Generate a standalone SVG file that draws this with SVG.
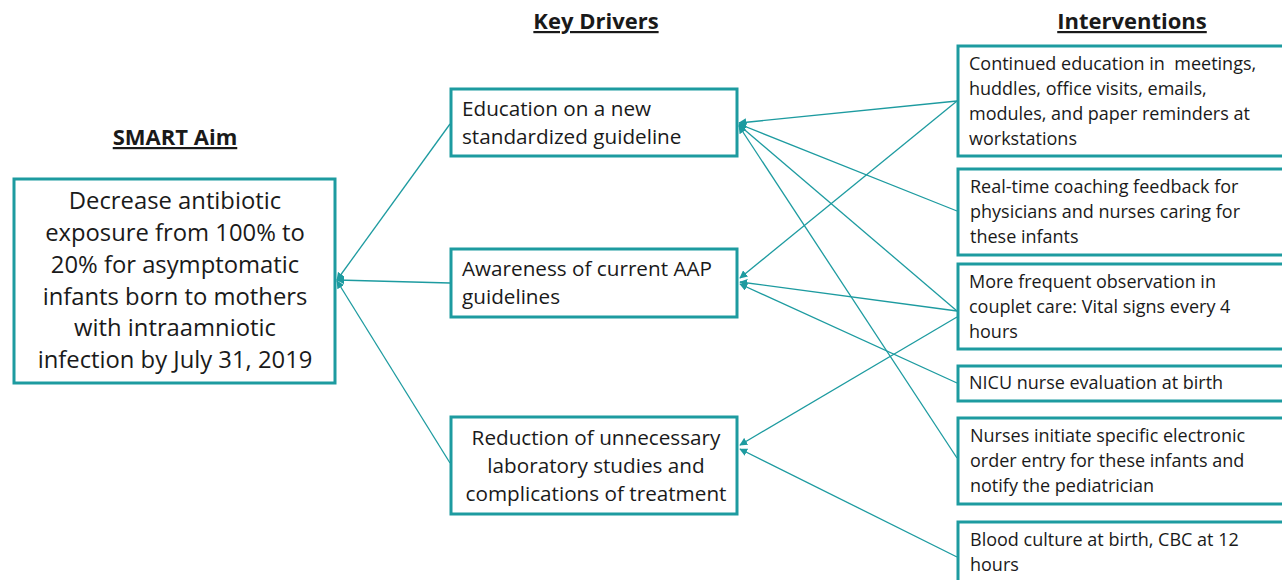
<svg xmlns="http://www.w3.org/2000/svg" width="1282" height="580" viewBox="0 0 1282 580">
<style>
.box{fill:#fff;stroke:#1D9BA0;stroke-width:3}
.t{font-family:"Open Sans","Liberation Sans",sans-serif;fill:#1a1a1a}
.aim{font-size:23.8px}
.drv{font-size:20.7px}
.int{font-size:18px}
.hd{font-family:"Open Sans","Liberation Sans",sans-serif;font-weight:bold;font-size:22px;text-decoration:underline;fill:#1a1a1a}
.c{stroke:#1D9BA0;stroke-width:1.3;fill:none;marker-end:url(#ah)}
</style>
<defs>
<marker id="ah" viewBox="0 0 10 10" refX="9" refY="5" markerWidth="8" markerHeight="8" markerUnits="userSpaceOnUse" orient="auto">
<path d="M0,0 L10,5 L0,10 z" fill="#1D9BA0"/>
</marker>
</defs>
<rect width="1282" height="580" fill="#fff"/>
<text class="hd" x="175" y="145" text-anchor="middle">SMART Aim</text>
<text class="hd" x="596" y="29" text-anchor="middle">Key Drivers</text>
<text class="hd" x="1132" y="29" text-anchor="middle">Interventions</text>
<g id="connectors">
<line class="c" x1="450" y1="124" x2="337" y2="280"/>
<line class="c" x1="450" y1="283" x2="337" y2="280"/>
<line class="c" x1="450" y1="463" x2="337" y2="281"/>
<line class="c" x1="957" y1="101" x2="739" y2="123"/>
<line class="c" x1="957" y1="211" x2="739" y2="124"/>
<line class="c" x1="957" y1="311" x2="739" y2="125"/>
<line class="c" x1="957" y1="458" x2="739" y2="126"/>
<line class="c" x1="957" y1="101" x2="740" y2="278"/>
<line class="c" x1="957" y1="311" x2="740" y2="282"/>
<line class="c" x1="957" y1="383" x2="740" y2="284"/>
<line class="c" x1="957" y1="317" x2="740" y2="445"/>
<line class="c" x1="957" y1="557" x2="740" y2="449"/>
</g>
<g id="aim">
<rect class="box" x="14" y="179" width="321" height="204"/>
<text class="t aim" text-anchor="middle" x="175"><tspan x="175" y="209">Decrease antibiotic</tspan><tspan x="175" y="241">exposure from 100% to</tspan><tspan x="175" y="273">20% for asymptomatic</tspan><tspan x="175" y="305">infants born to mothers</tspan><tspan x="175" y="336">with intraamniotic</tspan><tspan x="175" y="368">infection by July 31, 2019</tspan></text>
</g>
<g id="driver1">
<rect class="box" x="451" y="89" width="286" height="67"/>
<text class="t drv"><tspan x="462" y="116">Education on a new</tspan><tspan x="462" y="144">standardized guideline</tspan></text>
</g>
<g id="driver2">
<rect class="box" x="451" y="249" width="286" height="68"/>
<text class="t drv"><tspan x="462" y="276">Awareness of current AAP</tspan><tspan x="462" y="304">guidelines</tspan></text>
</g>
<g id="driver3">
<rect class="box" x="451" y="417" width="286" height="97"/>
<text class="t drv" text-anchor="middle"><tspan x="596" y="445">Reduction of unnecessary</tspan><tspan x="596" y="473">laboratory studies and</tspan><tspan x="596" y="501">complications of treatment</tspan></text>
</g>
<g id="int1">
<rect class="box" x="958" y="46" width="330" height="110"/>
<text class="t int" xml:space="preserve"><tspan x="969" y="70">Continued education in  meetings,</tspan><tspan x="969" y="95">huddles, office visits, emails,</tspan><tspan x="969" y="120">modules, and paper reminders at</tspan><tspan x="969" y="145">workstations</tspan></text>
</g>
<g id="int2">
<rect class="box" x="958" y="169" width="330" height="86"/>
<text class="t int"><tspan x="970" y="193">Real-time coaching feedback for</tspan><tspan x="970" y="218">physicians and nurses caring for</tspan><tspan x="970" y="243">these infants</tspan></text>
</g>
<g id="int3">
<rect class="box" x="958" y="264" width="330" height="85"/>
<text class="t int"><tspan x="969" y="288">More frequent observation in</tspan><tspan x="969" y="313">couplet care: Vital signs every 4</tspan><tspan x="969" y="338">hours</tspan></text>
</g>
<g id="int4">
<rect class="box" x="958" y="366" width="330" height="35"/>
<text class="t int"><tspan x="969" y="389">NICU nurse evaluation at birth</tspan></text>
</g>
<g id="int5">
<rect class="box" x="958" y="418" width="330" height="86"/>
<text class="t int"><tspan x="970" y="442">Nurses initiate specific electronic</tspan><tspan x="970" y="467">order entry for these infants and</tspan><tspan x="970" y="492">notify the pediatrician</tspan></text>
</g>
<g id="int6">
<rect class="box" x="958" y="522" width="330" height="70"/>
<text class="t int"><tspan x="970" y="546">Blood culture at birth, CBC at 12</tspan><tspan x="970" y="571">hours</tspan></text>
</g>
</svg>
